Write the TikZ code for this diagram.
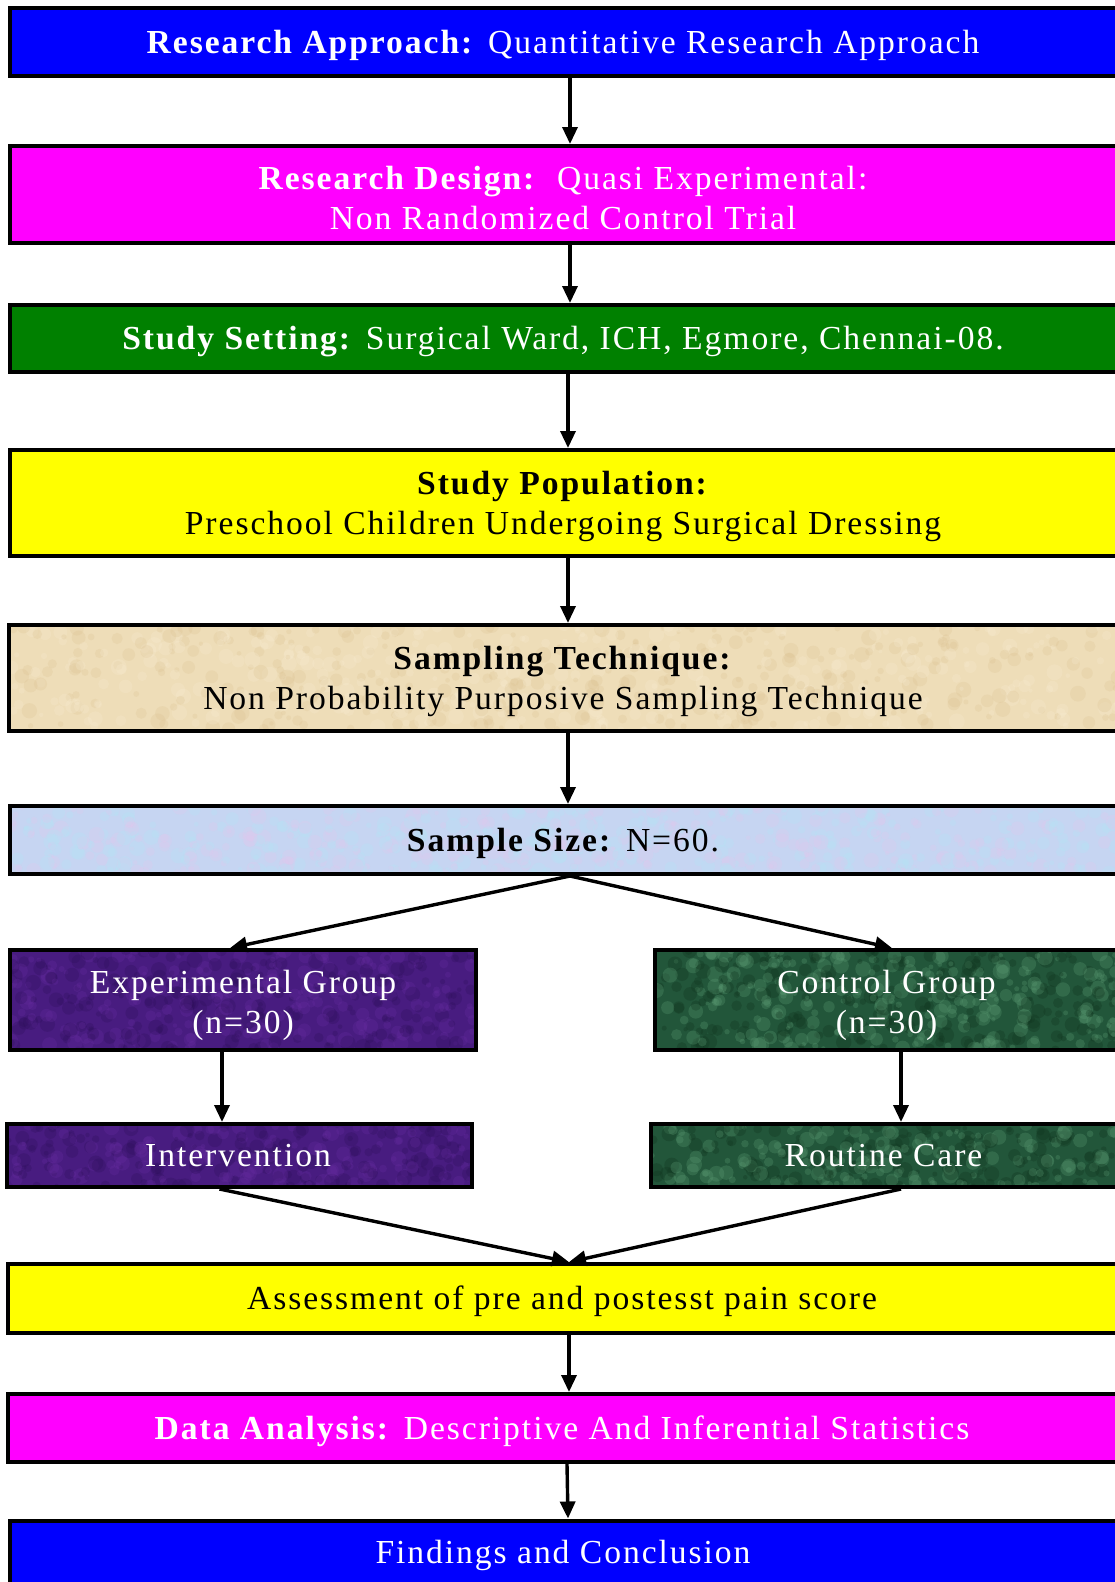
\documentclass[tikz,border=0pt]{standalone}
\usepackage{fontspec}
\setmainfont{Liberation Serif}[LetterSpace=5.8]
\usetikzlibrary{arrows.meta,calc}
\definecolor{cBlue}{HTML}{0000FF}
\definecolor{cMag}{HTML}{FF00FF}
\definecolor{cGreen}{HTML}{008000}
\definecolor{cYel}{HTML}{FFFF00}
\definecolor{cBeige}{HTML}{EEDDB8}
\definecolor{cBeigeD}{HTML}{DCC292}
\definecolor{cBeigeL}{HTML}{F8ECD2}
\definecolor{cSky}{HTML}{C6D5F2}
\definecolor{cSkyP}{HTML}{E0C8EE}
\definecolor{cSkyC}{HTML}{B4E4F6}
\definecolor{cPur}{HTML}{481C80}
\definecolor{cPurD}{HTML}{2C0E58}
\definecolor{cPurL}{HTML}{6A2EA4}
\definecolor{cDG}{HTML}{22563A}
\definecolor{cDGD}{HTML}{10341E}
\definecolor{cDGL}{HTML}{5A9A72}
% #1 horizontal compensation, #2 vertical drop, #3 text
\newcommand\boxtext[3][0pt]{\raisebox{#2}[0pt][0pt]{\begin{tabular}[b]{@{}c@{}}#3\end{tabular}}\hspace*{#1}}
\tikzset{
  box/.style={draw=black, line width=4pt, inner sep=0pt,
    font=\fontsize{33.6}{40.5}\selectfont},
  wbox/.style={box, text=white},
  bbox/.style={box, text=black},
  tex/.style n args={4}{path picture={
    \foreach \k in {1,...,#3}{
      \pgfmathsetmacro\ux{rnd}\pgfmathsetmacro\uy{rnd}\pgfmathsetmacro\ur{2+6*rnd}
      \pgfmathsetmacro\uc{rnd}
      \ifdim\uc pt<0.5pt\def\ucol{#1}\else\def\ucol{#2}\fi
      \fill[\ucol,opacity=#4] let \p1=(path picture bounding box.south west),
        \p2=(path picture bounding box.north east) in
        ({\x1+\ux*(\x2-\x1)},{\y1+\uy*(\y2-\y1)}) circle[radius=\ur pt];
    }}},
  arr/.style={line width=3.4pt, -{Triangle[length=17pt,width=15pt]}},
}
\begin{document}
\pgfmathsetseed{7}
\begin{tikzpicture}[x=1pt,y=-1pt]
\clip (0,0) rectangle (1115,1582);
\fill[white] (0,0) rectangle (1115,1582);
\node[wbox, fill=cBlue, minimum width=1120pt, minimum height=68pt] (b1) at (570,42)
  {\boxtext[14pt]{-11pt}{\textbf{Research Approach:} Quantitative Research Approach}};
\node[wbox, fill=cMag, minimum width=1120pt, minimum height=97pt] (b2) at (570,194.5)
  {\boxtext[14pt]{-35pt}{\textbf{Research Design:}\ \ Quasi Experimental:\\Non Randomized Control Trial}};
\node[wbox, fill=cGreen, minimum width=1120pt, minimum height=67pt] (b3) at (570,338.5)
  {\boxtext[14pt]{-11pt}{\textbf{Study Setting:} Surgical Ward, ICH, Egmore, Chennai-08.}};
\node[bbox, fill=cYel, minimum width=1120pt, minimum height=106pt] (b4) at (570,503)
  {\boxtext[14pt]{-31.5pt}{\textbf{Study Population:}\\Preschool Children Undergoing Surgical Dressing}};
\node[bbox, fill=cBeige, tex={cBeigeD}{cBeigeL}{700}{0.25}, minimum width=1122pt, minimum height=106pt] (b5) at (570,678)
  {\boxtext[14pt]{-31.5pt}{\textbf{Sampling Technique:}\\Non Probability Purposive Sampling Technique}};
\node[bbox, fill=cSky, tex={cSkyP}{cSkyC}{600}{0.3}, minimum width=1120pt, minimum height=68pt] (b6) at (570,840)
  {\boxtext[14pt]{-11pt}{\textbf{Sample Size:} N=60.}};
\node[wbox, fill=cPur, tex={cPurD}{cPurL}{450}{0.25}, minimum width=466pt, minimum height=100pt] (b7) at (243,1000)
  {\boxtext{-33.5pt}{Experimental Group\\(n=30)}};
\node[wbox, fill=cDG, tex={cDGD}{cDGL}{500}{0.3}, minimum width=466pt, minimum height=100pt] (b8) at (888,1000)
  {\boxtext[3pt]{-33.5pt}{Control Group\\(n=30)}};
\node[wbox, fill=cPur, tex={cPurD}{cPurL}{300}{0.25}, minimum width=465pt, minimum height=63pt] (b9) at (239.5,1155.5)
  {\boxtext[3pt]{-11pt}{Intervention}};
\node[wbox, fill=cDG, tex={cDGD}{cDGL}{330}{0.3}, minimum width=466pt, minimum height=63pt] (b10) at (884,1155.5)
  {\boxtext[1pt]{-11pt}{Routine Care}};
\node[bbox, fill=cYel, minimum width=1122pt, minimum height=69pt] (b11) at (569,1298.5)
  {\boxtext[14pt]{-11pt}{Assessment of pre and postesst pain score}};
\node[wbox, fill=cMag, minimum width=1122pt, minimum height=68pt] (b12) at (569,1428)
  {\boxtext[14pt]{-11pt}{\textbf{Data Analysis:} Descriptive And Inferential Statistics}};
\node[wbox, fill=cBlue, minimum width=1120pt, minimum height=68pt] (b13) at (570,1554.5)
  {\boxtext[14pt]{-9pt}{Findings and Conclusion}};
\draw[arr] (b1) -- (b2);
\draw[arr] (b2) -- (b3);
\draw[arr] ([xshift=-2pt]b3.south) -- ([xshift=-2pt]b4.north);
\draw[arr] ([xshift=-2pt]b4.south) -- ([xshift=-2pt]b5.north);
\draw[arr] ([xshift=-2pt]b5.south) -- ([xshift=-2pt]b6.north);
\draw[arr] (b6.south) -- ([xshift=-13pt]b7.north);
\draw[arr] (b6.south) -- ([xshift=4pt]b8.north);
\draw[arr] ([xshift=-21pt]b7.south) -- ([xshift=-17.5pt]b9.north);
\draw[arr] ([xshift=13pt]b8.south) -- ([xshift=17pt]b10.north);
\draw[arr] ([xshift=-20pt]b9.south) -- (b11.north);
\draw[arr] ([xshift=17pt]b10.south) -- (b11.north);
\draw[arr] (b11) -- (b12);
\draw[arr] ([xshift=-2pt]b12.south) -- ([xshift=-2pt]b13.north);
\end{tikzpicture}
\end{document}
